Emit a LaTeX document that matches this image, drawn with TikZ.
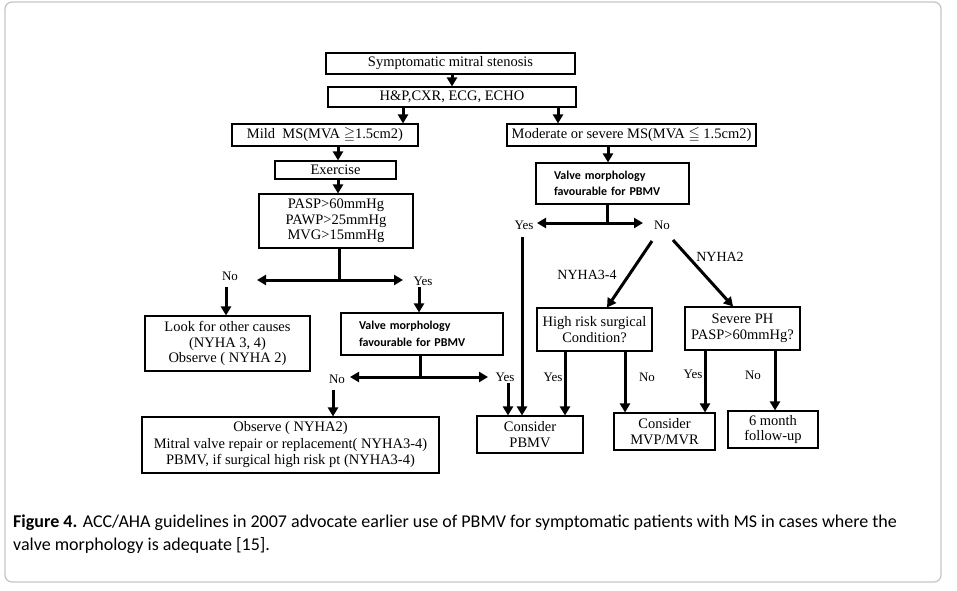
\documentclass[tikz,border=0pt]{standalone}
\usepackage{amssymb}
\usepackage{fontspec}
\setmainfont{Liberation Serif}
\newfontfamily\capfont{Carlito}
\usetikzlibrary{arrows.meta}
\begin{document}
\begin{tikzpicture}[x=1pt,y=-1pt,
  box/.style={draw, line width=1.1pt, inner sep=0pt, align=center, font=\fontsize{14.5}{15.5}\selectfont},
  vbox/.style={draw, line width=1.1pt, inner ysep=0pt, inner xsep=18pt, align=left, font=\capfont\bfseries\fontsize{12}{16.5}\selectfont},
  lab/.style={inner sep=0pt, font=\fontsize{13}{14}\selectfont},
  nlab/.style={inner sep=0pt, font=\fontsize{14}{15}\selectfont},
  arr/.style={line width=3pt, -{Triangle[length=9pt,width=10pt]}},
  ln/.style={line width=3pt}]
\useasboundingbox (0,0) rectangle (957,590);
\draw[gray!45, line width=1.3pt, rounded corners=7pt] (5,2) rectangle (941,582);

% boxes
\node[box, minimum width=249pt, minimum height=21pt] (b1) at (450.5,63.5) {Symptomatic mitral stenosis};
\node[box, minimum width=248pt, minimum height=20pt] (b2) at (452,97) {H\&P,CXR, ECG, ECHO};
\node[box, minimum width=186pt, minimum height=22pt] (b3) at (325,135) {Mild\ \ MS(MVA $\geqq$1.5cm2)};
\node[box, minimum width=249pt, minimum height=22pt] (b4) at (631.5,135) {Moderate or severe MS(MVA $\leqq$ 1.5cm2)};
\node[box, minimum width=121pt, minimum height=18pt] (ex) at (335.5,170) {Exercise};
\node[box, minimum width=154pt, minimum height=54pt] (pasp) at (336,221) {PASP\textgreater60mmHg\\PAWP\textgreater25mmHg\\MVG\textgreater15mmHg};
\node[box, minimum width=165pt, minimum height=55pt] (look) at (227.5,343.5) {Look for other causes\\(NYHA 3, 4)\\Observe ( NYHA 2)};
\node[vbox, text width=126pt, minimum height=42pt] (vl) at (422,334) {Valve morphology\\favourable for PBMV};
\node[box, minimum width=297pt, minimum height=56pt, font=\fontsize{14.5}{16.5}\selectfont] (bl) at (290.5,445) {Observe ( NYHA2)\\Mitral valve repair or replacement( NYHA3-4)\\PBMV, if surgical high risk pt (NYHA3-4)};
\node[box, minimum width=106pt, minimum height=37pt] (pb) at (530,434.5) {Consider\\PBMV};
\node[vbox, text width=117pt, minimum height=41pt] (vr) at (612.5,183.5) {Valve morphology\\favourable for PBMV};
\node[box, minimum width=115pt, minimum height=43pt] (hr) at (594.5,329.5) {High risk surgical\\Condition?};
\node[box, minimum width=115pt, minimum height=43pt] (ph) at (742.5,328.5) {Severe PH\\PASP\textgreater60mmHg?};
\node[box, minimum width=101pt, minimum height=37pt] (mv) at (664.5,431.5) {Consider\\MVP/MVR};
\node[box, minimum width=90pt, minimum height=37pt] (six) at (773,429.5) {6 month\\follow-up};

% labels
\node[lab] (nL) at (230,276) {No};
\node[lab] (nY) at (423,281) {Yes};
\node[lab] (n2L) at (337,379) {No};
\node[lab] (n2Y) at (505,377) {Yes};
\node[lab] (rY) at (524,225) {Yes};
\node[lab] (rN) at (662,225) {No};
\node[nlab] (ny34) at (587,275) {NYHA3-4};
\node[nlab] (ny2) at (720,257) {NYHA2};
\node[lab] (hY) at (553,377) {Yes};
\node[lab] (hN) at (647,377) {No};
\node[lab] (sY) at (693,374) {Yes};
\node[lab] (sN) at (753,375) {No};

% split points
\coordinate (s1) at (339,280);
\coordinate (s2) at (420,377);
\coordinate (s3) at (607,223);

% connectors
\draw[arr] (b1.south -| 452,0) -- (b2.north -| 452,0);
\draw[arr] (b2.south -| 403,0) -- (b3.north -| 403,0);
\draw[arr] (b2.south -| 558,0) -- (b4.north -| 558,0);
\draw[arr] (b3.south -| 338,0) -- (ex.north -| 338,0);
\draw[arr] (ex.south -| 338,0) -- (pasp.north -| 338,0);
\draw[ln] (pasp.south -| s1) -- (s1);
\draw[arr] (s1) -- (257,280);
\draw[arr] (s1) -- (403,280);
\draw[arr] (226,287) -- (look.north -| 226,0);
\draw[arr] (419,287) -- (vl.north -| 419,0);
\draw[ln] (vl.south -| s2) -- (s2);
\draw[arr] (s2) -- (350,377);
\draw[arr] (s2) -- (488,377);
\draw[arr] (333,390) -- (bl.north -| 333,0);
\draw[arr] (508,383) -- (pb.north -| 508,0);
\draw[arr] (b4.south -| 608,0) -- (vr.north -| 608,0);
\draw[ln] (vr.south -| s3) -- (s3);
\draw[arr] (s3) -- (537,223);
\draw[arr] (s3) -- (643,223);
\draw[arr] (522,237) -- (pb.north -| 522,0);
\draw[arr] (652,241) -- (hr.north -| 607,0);
\draw[arr] (673,240) -- (ph.north -| 733,0);
\draw[arr] (hr.south -| 565,0) -- (pb.north -| 565,0);
\draw[arr] (hr.south -| 625,0) -- (mv.north -| 625,0);
\draw[arr] (ph.south -| 705,0) -- (mv.north -| 705,0);
\draw[arr] (ph.south -| 775,0) -- (six.north -| 775,0);

% caption
\node[anchor=north west, inner sep=0pt, align=left, font=\capfont\fontsize{18}{23}\selectfont] (cap) at (13,515)
  {\textbf{Figure 4.} ACC/AHA guidelines in 2007 advocate earlier use of PBMV for symptomatic patients with MS in cases where the\\valve morphology is adequate [15].};
\end{tikzpicture}
\end{document}
